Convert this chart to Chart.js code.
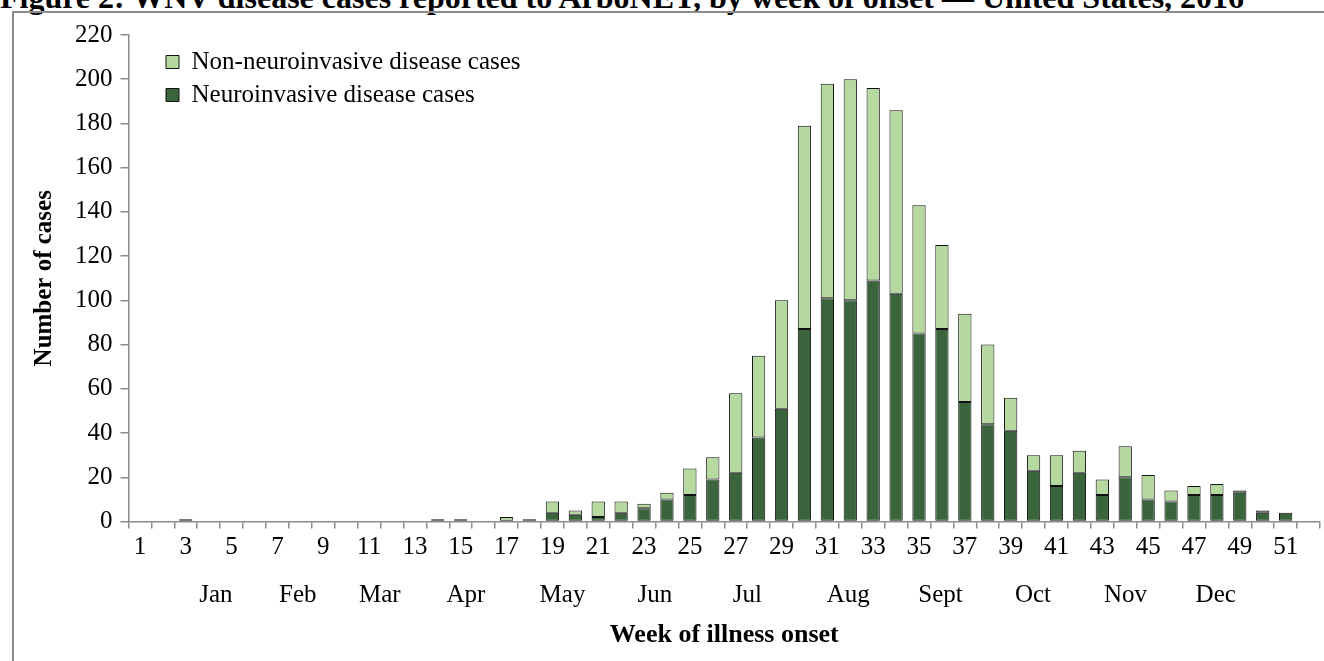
<!DOCTYPE html>
<html>
<head>
<meta charset="utf-8">
<script src="https://cdn.jsdelivr.net/npm/chart.js@4.4.1/dist/chart.umd.min.js"></script>
<style>
  html, body { margin: 0; padding: 0; background: #fff; overflow: hidden; }
  #title { position: absolute; left: 0; top: -19px; white-space: nowrap; font: bold 32px 'Liberation Serif'; line-height: 32px; color: #000; }
  #frame { position: absolute; left: 12px; top: 11px; width: 1312px; height: 650px; border-top: 2px solid #8c8c8c; border-left: 2px solid #8c8c8c; box-sizing: border-box; }
  #wrap { position: absolute; left: 0; top: 0; width: 1324px; height: 661px; }
</style>
</head>
<body>
<div id="title">Figure 2: WNV disease cases reported to ArboNET, by week of onset — United States, 2016</div>
<div id="frame"></div>
<div id="wrap"><canvas id="weekChart"></canvas></div>
<script>
const weeks = ['1','2','3','4','5','6','7','8','9','10','11','12','13','14','15','16','17','18','19','20',
  '21','22','23','24','25','26','27','28','29','30','31','32','33','34','35','36','37','38','39','40',
  '41','42','43','44','45','46','47','48','49','50','51','52'];

// neuroinvasive cases by week
const neuro = [0,0,0,0,0,0,0,0,0,0,0,0,0,1,0,0,0,0,4,3,
  2,4,6,10,12,19,22,38,51,87,101,100,109,103,85,87,54,44,41,23,
  16,22,12,20,10,9,12,12,13,4,4,0];

// non-neuroinvasive cases by week
const nonNeuro = [0,0,1,0,0,0,0,0,0,0,0,0,0,0,1,0,2,1,5,2,
  7,5,2,3,12,10,36,37,49,92,97,100,87,83,58,38,40,36,15,7,
  14,10,7,14,11,5,4,5,1,1,0,0];

// month labels and where they sit (in weeks)
const months = ['Jan','Feb','Mar','Apr','May','Jun','Jul','Aug','Sept','Oct','Nov','Dec'];
const monthWeek = [2.3, 6.2, 10.1, 14.2, 18.8, 23.2, 27.6, 32.4, 36.8, 41.2, 45.6, 49.9];

const darkGreen = '#3a643c';
const lightGreen = '#b6d9a0';
const axisGray = '#8c8c8c';

Chart.defaults.font.family = "'Liberation Serif', 'Times New Roman', serif";
Chart.defaults.color = '#000';

// nudge the legend into place inside the plot
const legendShift = {
  id: 'legendShift',
  afterLayout(chart) {
    chart.legend.left += 29.5;
    chart.legend.top += 41.5;
  }
};

const chartWeeks = new Chart(document.getElementById('weekChart'), {
  type: 'bar',
  data: {
    labels: weeks,
    datasets: [{
        label: 'Neuroinvasive disease cases',
        data: neuro,
        backgroundColor: darkGreen,
        borderColor: '#111',
        borderWidth: 1,
        borderSkipped: false,
        barPercentage: 0.58,
        categoryPercentage: 1
      },
      {
        label: 'Non-neuroinvasive disease cases',
        data: nonNeuro,
        backgroundColor: lightGreen,
        borderColor: '#111',
        borderWidth: 1,
        borderSkipped: false,
        barPercentage: 0.58,
        categoryPercentage: 1
      }
    ]
  },
  options: {
    responsive: true,
    maintainAspectRatio: false,
    animation: false,
    devicePixelRatio: 1,
    layout: {
      padding: { left: 0, right: 4, top: 35, bottom: 0 }
    },
    scales: {
      x: {
        stacked: true,
        weight: 0,
        border: { color: axisGray, width: 1.5 },
        grid: { offset: true, drawOnChartArea: false, drawTicks: true, tickLength: 7, color: axisGray, lineWidth: 1.5 },
        ticks: {
          autoSkip: false,
          maxRotation: 0,
          padding: 3.5,
          font: { size: 25 },
          callback: function(val, i) {
            return i % 2 === 0 ? this.getLabelForValue(val) : '';
          }
        },
        afterFit: function(scale) { scale.height = 40.5; }
      },
      month: {
        type: 'linear',
        position: 'bottom',
        weight: 1,
        min: 0.5,
        max: 52.5,
        border: { display: false },
        grid: { display: false, drawTicks: false },
        ticks: {
          autoSkip: false,
          maxRotation: 0,
          padding: 18,
          font: { size: 25 },
          callback: function(val, i) { return months[i]; }
        },
        afterBuildTicks: function(scale) {
          scale.ticks = monthWeek.map(v => ({ value: v }));
        },
        title: {
          display: true,
          text: 'Week of illness onset',
          font: { size: 26, weight: 'bold' },
          padding: { top: 0, bottom: 10.5 }
        },
        afterFit: function(scale) { scale.height = 99; }
      },
      y: {
        stacked: true,
        min: 0,
        max: 220,
        border: { color: axisGray, width: 1.5 },
        grid: { drawOnChartArea: false, drawTicks: true, tickLength: 8, color: axisGray, lineWidth: 1.5 },
        ticks: {
          stepSize: 20,
          padding: 8,
          font: { size: 25 }
        },
        title: {
          display: true,
          text: 'Number of cases',
          font: { size: 25, weight: 'bold' },
          padding: { top: 30, bottom: 0 }
        },
        afterFit: function(scale) { scale.width = 128.5; }
      }
    },
    plugins: {
      legend: {
        display: true,
        position: 'chartArea',
        align: 'start',
        reverse: true,
        labels: {
          boxWidth: 13,
          boxHeight: 13,
          padding: 8,
          font: { size: 25 }
        }
      },
      tooltip: { enabled: false }
    }
  },
  plugins: [legendShift]
});
</script>
</body>
</html>
